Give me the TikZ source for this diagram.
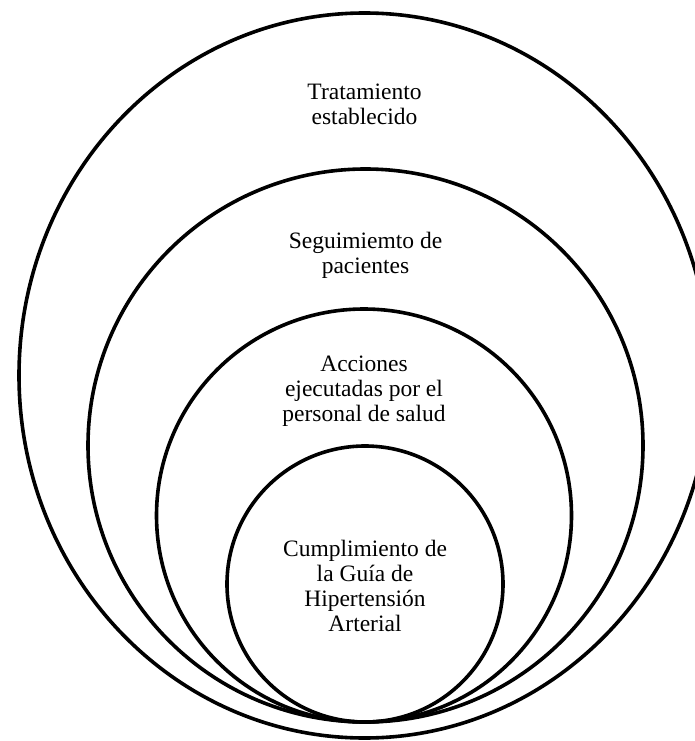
\documentclass[tikz,border=0pt]{standalone}
\usepackage{fontspec}
\setmainfont{Liberation Serif}
\usepackage{tikz}
\usetikzlibrary{shapes.geometric,positioning}
\tikzset{
    %Define style for the nested rings
    ring/.style={
           ellipse,
           draw=black,
           line width=3.6pt,
           inner sep=0pt,
           outer sep=0pt},
    %Define style for the texts
    lbl/.style={
           align=center,
           inner sep=0pt,
           font=\fontsize{23.5}{25}\selectfont,
           text centered}
}
\begin{document}
\begin{tikzpicture}[x=1pt,y=-1pt]
\useasboundingbox (0,0) rectangle (695,741);
\clip (0,0) rectangle (695,741);

 %rings
\node[ring, minimum width=691pt, minimum height=725pt](tratamiento) at (364.5,375.5){};
\node[ring, minimum width=555pt, minimum height=553pt](seguimiento) at (365.5,445.5){};
\node[ring, minimum width=415pt, minimum height=413pt](acciones) at (364,515.5){};
\node[ring, minimum width=276pt, minimum height=276pt](guia) at (365,584){};

 %texts
\node[lbl, below=71pt of tratamiento.north](t1){Tratamiento\\establecido};
\node[lbl, below=63pt of seguimiento.north](t2){Seguimiemto de\\pacientes};
\node[lbl, below=47pt of acciones.north](t3){Acciones\\ejecutadas por el\\personal de salud};
\node[lbl, below=94pt of guia.north](t4){Cumplimiento de\\la Guía de\\Hipertensión\\Arterial};

\end{tikzpicture}
\end{document}
